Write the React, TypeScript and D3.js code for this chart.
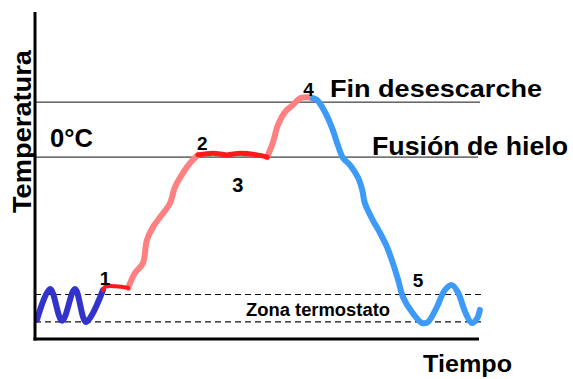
import { useEffect, useRef } from 'react'
import * as d3 from 'd3'

// time in arbitrary units (0..100), temperature in °C
const THERMOSTAT_CYCLE = [
  [0.45, -29.6], [3.4, -24.0], [6.1, -29.8], [9.0, -24.0], [11.5, -30.0], [15.3, -24.2],
]
const DRIP_START = [
  [15.3, -24.2], [15.8, -23.6], [18.2, -23.5], [21.0, -23.8],
]
const WARM_UP = [
  [21.0, -23.8], [22.5, -21.1], [24.3, -19.3], [25.2, -15.1], [26.6, -12.7], [28.2, -10.9],
  [30.4, -8.4], [31.5, -5.5], [33.3, -2.9], [34.9, -1.1], [36.7, 0.4],
]
const ICE_MELT = [
  [36.7, 0.4], [40.1, 0.7], [43.2, 0.4], [46.2, 0.7], [50.0, 0.4], [52.3, 0.0],
]
const FINAL_HEAT = [
  [52.3, 0.0], [53.6, 2.7], [54.7, 5.8], [56.3, 8.2], [58.1, 9.5], [59.7, 10.7],
  [61.3, 10.9], [62.6, 10.7],
]
const PULL_DOWN = [
  [62.6, 10.7], [63.5, 10.4], [65.3, 8.2], [66.9, 5.3], [68.2, 2.2], [69.4, -0.2],
  [71.0, -1.5], [72.8, -3.8], [73.7, -6.0], [74.3, -8.4], [76.1, -11.5], [77.7, -13.8],
  [79.3, -16.4], [80.6, -19.3], [81.8, -22.4], [82.9, -25.5], [84.9, -28.2], [87.2, -30.2],
  [88.5, -30.0], [90.5, -27.3], [92.3, -24.2], [93.9, -23.3], [95.3, -24.7], [96.9, -28.2],
  [98.4, -30.2], [99.6, -29.3], [100.2, -27.8],
]

const FIN_DESESCARCHE = 10
const FUSION_HIELO = 0
const ZONA_TERMOSTATO = [-25, -30]

const POINT_LABELS = [
  { label: '1', t: 14.6, temp: -23.3 },
  { label: '2', t: 36.5, temp: 1.3 },
  { label: '3', t: 44.4, temp: -6.4 },
  { label: '4', t: 60.4, temp: 11.1 },
  { label: '5', t: 85.1, temp: -23.6 },
]

const FONT = '"Liberation Sans", Arial, Helvetica, sans-serif'

export default function App() {
  const svgRef = useRef<SVGSVGElement>(null)

  useEffect(() => {
    if (!svgRef.current) return
    const W = 573, H = 379
    const svg = d3.select(svgRef.current)
    svg.selectAll('*').remove()
    svg.attr('width', W).attr('height', H)

    const x = d3.scaleLinear().domain([0, 100]).range([35, 479])
    const y = d3.scaleLinear().domain([-33.1, 26.4]).range([339, 12])

    // reference lines
    svg.append('line')
      .attr('x1', x(0)).attr('x2', x(100) + 1)
      .attr('y1', y(FIN_DESESCARCHE)).attr('y2', y(FIN_DESESCARCHE))
      .attr('stroke', '#111').attr('stroke-width', 1)
    svg.append('line')
      .attr('x1', x(0)).attr('x2', x(100) - 1)
      .attr('y1', y(FUSION_HIELO)).attr('y2', y(FUSION_HIELO))
      .attr('stroke', '#111').attr('stroke-width', 1)
    ZONA_TERMOSTATO.forEach(v => {
      svg.append('line')
        .attr('x1', x(0)).attr('x2', x(100) + 6)
        .attr('y1', y(v)).attr('y2', y(v))
        .attr('stroke', '#111').attr('stroke-width', 1.2)
        .attr('stroke-dasharray', '6,4')
    })

    // curve
    const line = d3.line<number[]>()
      .x(d => x(d[0])).y(d => y(d[1]))
      .curve(d3.curveCatmullRom.alpha(0.5))

    const segments = [
      { data: THERMOSTAT_CYCLE, color: '#3333cc', w: 6 },
      { data: WARM_UP, color: '#ff8080', w: 6 },
      { data: FINAL_HEAT, color: '#ff8080', w: 6 },
      { data: DRIP_START, color: '#ff1a1a', w: 4 },
      { data: ICE_MELT, color: '#ff1a1a', w: 5 },
      { data: PULL_DOWN, color: '#3d9bf7', w: 6 },
    ]
    segments.forEach(s => {
      svg.append('path')
        .attr('d', line(s.data))
        .attr('fill', 'none')
        .attr('stroke', s.color)
        .attr('stroke-width', s.w)
        .attr('stroke-linecap', 'round')
        .attr('stroke-linejoin', 'round')
    })

    // axes
    svg.append('line')
      .attr('x1', x(0)).attr('x2', x(0))
      .attr('y1', y(26.4)).attr('y2', y(-33.1) + 1.5)
      .attr('stroke', '#000').attr('stroke-width', 3)
    svg.append('line')
      .attr('x1', x(0) - 1.5).attr('x2', x(100))
      .attr('y1', y(-33.1)).attr('y2', y(-33.1))
      .attr('stroke', '#000').attr('stroke-width', 3)

    const txt = (s: string, tx: number, ty: number, size: number, len?: number) => {
      const t = svg.append('text')
        .attr('x', tx).attr('y', ty)
        .attr('font-family', FONT).attr('font-weight', 'bold')
        .attr('font-size', size).attr('fill', '#000')
        .text(s)
      if (len) t.attr('textLength', len).attr('lengthAdjust', 'spacingAndGlyphs')
      return t
    }

    txt('Temperatura', 0, 0, 25, 163)
      .attr('text-anchor', 'middle')
      .attr('transform', 'translate(31,131.5) rotate(-90)')
    txt('0°C', 50, y(FUSION_HIELO) - 10, 25, 43)
    txt('Fin desescarche', 330, y(FIN_DESESCARCHE) - 5, 24, 212)
    txt('Fusión de hielo', 372, y(FUSION_HIELO) - 2, 25, 196)
    txt('Tiempo', 423, 372, 24, 89)
    txt('Zona termostato', 246, 316, 18, 144)

    const sizes: Record<string, number> = { '1': 19, '2': 19, '3': 20, '4': 19, '5': 19 }
    POINT_LABELS.forEach(p => {
      txt(p.label, x(p.t), y(p.temp), sizes[p.label])
    })
  }, [])

  return (
    <svg ref={svgRef} style={{ position: 'absolute', left: 0, top: 0, display: 'block', background: '#fff' }} />
  )
}
